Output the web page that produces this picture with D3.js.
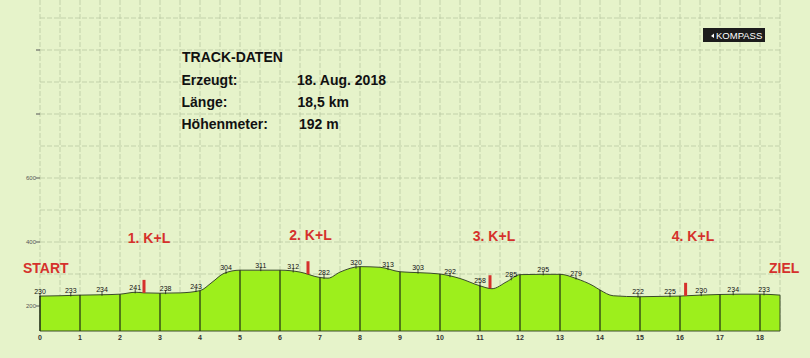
<!DOCTYPE html>
<html><head><meta charset="utf-8">
<script src="https://cdn.jsdelivr.net/npm/d3@7"></script>
<style>
html,body{margin:0;padding:0;background:#e6f3ca;}
svg{display:block;}
text{font-family:"Liberation Sans",Arial,sans-serif;}
</style></head>
<body>
<svg id="c" width="810" height="358"></svg>
<script>
// profile (km, elevation m)
const profileKm = [0,0.5,1,1.5,2,2.4,2.6,3,3.5,4,4.3,4.6,5,5.5,6,6.5,7,7.2,7.5,8,8.5,9,9.5,10,10.5,11,11.3,11.67,12,12.5,13,13.4,13.83,14,14.33,15,15.5,16,16.5,17,17.5,18,18.5];
const profileElev = [231,232,234,235,237,243,241,240,241,248,274,302,312,312,312,306,289,287,306,323,321,307,304,300,286,263,254,276,298,299,299,286,263,250,232,229,230,231,234,236,237,237,234];
// elevation annotations
const labelKm = [0,0.77,1.55,2.38,3.14,3.9,4.65,5.52,6.33,7.1,7.9,8.7,9.45,10.25,11.0,11.78,12.58,13.4,14.95,15.75,16.53,17.33,18.1];
const labelVal = [230,233,234,241,238,243,304,311,312,282,320,313,303,292,258,285,295,279,222,225,230,234,233];
// K+L stops
const stopKm = [2.6,6.7,11.25,16.14];
const stopNames = ["1. K+L","2. K+L","3. K+L","4. K+L"];
// axes
const xTicks = d3.range(0,19);
const yTickLabels = [200,400,600];
const yTickMarks = [200,400,600,800,1000];
// info block
const infoTitle = "TRACK-DATEN";
const infoKeys = ["Erzeugt:","Länge:","Höhenmeter:"];
const infoVals = ["18. Aug. 2018","18,5 km","192 m"];

const svg = d3.select("#c");
const x = d3.scaleLinear().domain([0,18.5]).range([40,780]);
const y = d3.scaleLinear().domain([200,1100]).range([306,18]);
const baseV = y.invert(331);
const pts = profileKm.map((k,i)=>({k, e:profileElev[i]}));
const interp = k => {
  const i = d3.bisector(d=>d.k).right(pts,k);
  if(i<=0) return pts[0].e;
  if(i>=pts.length) return pts[pts.length-1].e;
  const a=pts[i-1], b=pts[i];
  return a.e + (b.e-a.e)*(k-a.k)/(b.k-a.k);
};

// grid
const g = svg.append("g");
g.selectAll("line.v").data(d3.range(0,18.51,0.5)).join("line")
  .attr("x1",d=>x(d)).attr("x2",d=>x(d)).attr("y1",0).attr("y2",331)
  .attr("stroke","#b9c8a2").attr("stroke-width",0.8).attr("stroke-dasharray","5,2");
g.selectAll("line.h").data(d3.range(200,1101,100)).join("line")
  .attr("x1",x(0)).attr("x2",x(18.5)).attr("y1",d=>y(d)).attr("y2",d=>y(d))
  .attr("stroke","#b9c8a2").attr("stroke-width",0.8).attr("stroke-dasharray","5,2");

// y ticks
svg.selectAll("line.yt").data(yTickMarks).join("line")
  .attr("x1",36).attr("x2",40).attr("y1",d=>y(d)).attr("y2",d=>y(d))
  .attr("stroke","#555").attr("stroke-width",1);
svg.selectAll("text.yl").data(yTickLabels).join("text")
  .attr("x",36).attr("y",d=>y(d)+2).attr("text-anchor","end")
  .attr("font-size",6).attr("fill","#555").text(d=>d);

// area
const area = d3.area().x(d=>x(d.k)).y0(y(baseV)).y1(d=>y(d.e)).curve(d3.curveMonotoneX);
const line = d3.line().x(d=>x(d.k)).y(d=>y(d.e)).curve(d3.curveMonotoneX);
svg.append("path").datum(pts).attr("d",area).attr("fill","#9def1c");
svg.append("path").datum(pts).attr("d",line).attr("fill","none").attr("stroke","#3a4a2a").attr("stroke-width",1);
svg.append("line").attr("x1",x(0)).attr("x2",x(18.5)).attr("y1",y(baseV)).attr("y2",y(baseV))
  .attr("stroke","#3a4a2a").attr("stroke-width",1);
svg.append("line").attr("x1",x(18.5)).attr("x2",x(18.5)).attr("y1",y(baseV)).attr("y2",y(interp(18.5)))
  .attr("stroke","#3a4a2a").attr("stroke-width",1);
svg.append("line").attr("x1",x(0)).attr("x2",x(0)).attr("y1",y(baseV)).attr("y2",y(interp(0)))
  .attr("stroke","#3a4a2a").attr("stroke-width",1);
// km lines
svg.selectAll("line.km").data(xTicks).join("line")
  .attr("x1",d=>x(d)).attr("x2",d=>x(d)).attr("y1",y(baseV)).attr("y2",d=>y(interp(d)))
  .attr("stroke","#1f2a14").attr("stroke-width",1.2);

// x tick labels
svg.selectAll("text.xl").data(xTicks).join("text")
  .attr("x",d=>x(d)).attr("y",340).attr("text-anchor","middle")
  .attr("font-size",7).attr("font-weight","bold").attr("fill","#333").text(d=>d);

// elevation labels
const lab = svg.append("g");
labelKm.forEach((k,i)=>{
  const ly = y(interp(k));
  lab.append("line").attr("x1",x(k)).attr("x2",x(k)).attr("y1",ly-3).attr("y2",ly+1)
    .attr("stroke","#222").attr("stroke-width",0.8);
  lab.append("text").attr("x",x(k)).attr("y",ly-2.5).attr("text-anchor","middle")
    .attr("font-size",7).attr("fill","#111").text(labelVal[i]);
});

// K+L markers
const red = "#d5312c";
svg.selectAll("rect.stop").data(stopKm).join("rect")
  .attr("x",d=>x(d)-1.5).attr("width",3)
  .attr("y",d=>y(interp(d))-13).attr("height",13).attr("fill",red);
const stopLabelX = [149,310.5,494,693];
const stopLabelY = [243,240,240.5,240.5];
svg.selectAll("text.stopl").data(stopNames).join("text")
  .attr("x",(d,i)=>stopLabelX[i]).attr("y",(d,i)=>stopLabelY[i]).attr("text-anchor","middle")
  .attr("font-size",14).attr("font-weight","bold").attr("fill",red).text(d=>d);
svg.append("text").attr("x",23).attr("y",273).attr("font-size",14).attr("font-weight","bold").attr("fill",red).text("START");
svg.append("text").attr("x",769).attr("y",272.5).attr("font-size",14).attr("font-weight","bold").attr("fill",red).text("ZIEL");

// info block
svg.append("text").attr("x",182).attr("y",61.5).attr("font-size",14).attr("font-weight","bold").attr("fill","#111").text(infoTitle);
const infoY = [84.5,106.8,128.5];
const infoVX = [297,297.5,299];
infoKeys.forEach((k,i)=>{
  svg.append("text").attr("x",181.5).attr("y",infoY[i]).attr("font-size",14).attr("font-weight","bold").attr("fill","#111").text(k);
  svg.append("text").attr("x",infoVX[i]).attr("y",infoY[i]).attr("font-size",14).attr("font-weight","bold").attr("fill","#111").text(infoVals[i]);
});

// logo
svg.append("rect").attr("x",703).attr("y",28).attr("width",62).attr("height",14).attr("fill","#1c1c1c");
svg.append("path").attr("d","M711,36 L714,33.5 L714,38 Z").attr("fill","#fff");
svg.append("text").attr("x",716).attr("y",39).attr("font-size",9.5).attr("fill","#fff").text("KOMPASS");
</script>
</body></html>
